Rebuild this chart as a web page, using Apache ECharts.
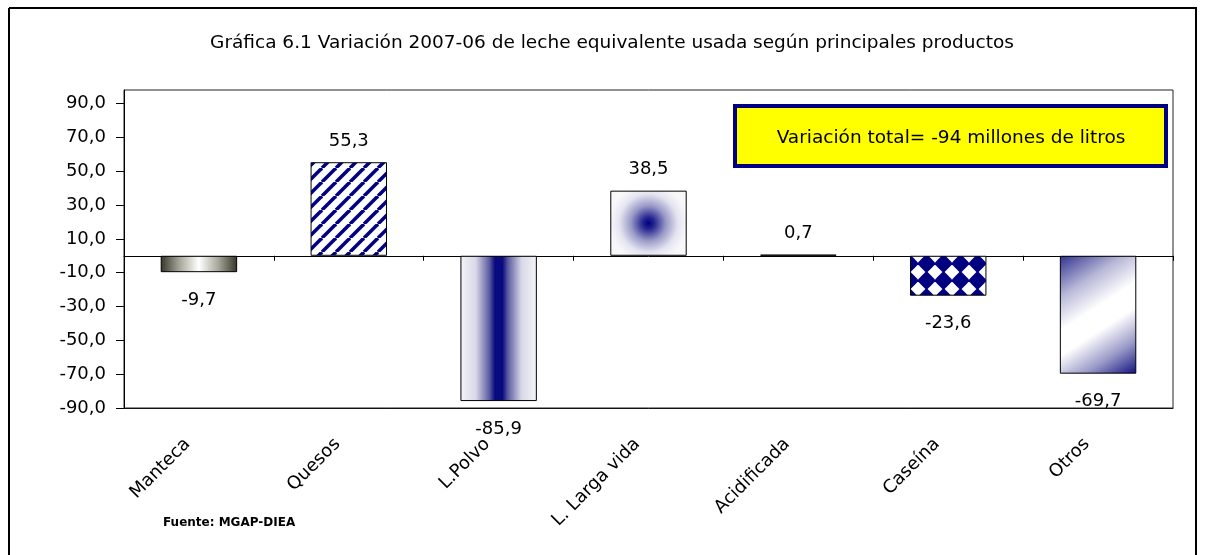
<!DOCTYPE html>
<html><head><meta charset="utf-8">
<script src="https://cdn.jsdelivr.net/npm/echarts@6/dist/echarts.min.js"></script>
<style>html,body{margin:0;padding:0;background:#fff}#c{width:1206px;height:555px}</style>
</head><body><div id="c"></div>
<script>
const categories = ['Manteca','Quesos','L.Polvo','L. Larga vida','Acidificada','Caseína','Otros'];
const values = [-9.7, 55.3, -85.9, 38.5, 0.7, -23.6, -69.7];
const yTickLabels = [-90,-70,-50,-30,-10,10,30,50,70,90];
const titleText = 'Gráfica 6.1 Variación 2007-06 de leche equivalente usada según principales productos';
const boxText = 'Variación total= -94 millones de litros';
const sourceText = 'Fuente: MGAP-DIEA';

const NAVY = '#000080';
function stripeTile(){
  const c = document.createElement('canvas'); c.width = 14; c.height = 14;
  const g = c.getContext('2d');
  g.fillStyle = '#fff'; g.fillRect(0,0,14,14);
  g.strokeStyle = NAVY; g.lineWidth = 3.5;
  for (const o of [-14,0,14]) { g.beginPath(); g.moveTo(o,14); g.lineTo(o+14,0); g.stroke(); }
  return c;
}
function diamondTile(){
  const s = 17, h = s/2, r = 9.6;
  const c = document.createElement('canvas'); c.width = s; c.height = s;
  const g = c.getContext('2d');
  g.fillStyle = '#fff'; g.fillRect(0,0,s,s);
  g.fillStyle = NAVY;
  g.beginPath(); g.moveTo(h, h-r); g.lineTo(h+r, h); g.lineTo(h, h+r); g.lineTo(h-r, h); g.closePath(); g.fill();
  g.beginPath(); g.arc(h,h,6.3,0,Math.PI*2); g.fill();
  return c;
}
const fills = [
  {type:'linear',x:0,y:0,x2:1,y2:0,colorStops:[{offset:0,color:'#35352a'},{offset:0.25,color:'#a8a89c'},{offset:0.5,color:'#ffffff'},{offset:0.75,color:'#a8a89c'},{offset:1,color:'#35352a'}]},
  {image: stripeTile(), repeat:'repeat'},
  {type:'linear',x:0,y:0,x2:1,y2:0,colorStops:[{offset:0,color:'#f4f4f8'},{offset:0.2,color:'#d8d8e8'},{offset:0.38,color:'#5a5aa0'},{offset:0.45,color:'#0a0a80'},{offset:0.55,color:'#0a0a80'},{offset:0.62,color:'#5a5aa0'},{offset:0.8,color:'#d8d8e8'},{offset:1,color:'#f4f4f8'}]},
  {type:'radial',x:0.5,y:0.5,r:0.6,colorStops:[{offset:0,color:'#000080'},{offset:0.15,color:'#262690'},{offset:0.45,color:'#9a9ac8'},{offset:0.75,color:'#e4e4f0'},{offset:1,color:'#f8f8fb'}]},
  {type:'linear',x:0,y:0,x2:1,y2:0,colorStops:[{offset:0,color:'#9090c0'},{offset:1,color:'#9090c0'}]},
  {image: diamondTile(), repeat:'repeat'},
  {type:'linear',x:0,y:0,x2:1,y2:1,colorStops:[{offset:0,color:'#303090'},{offset:0.25,color:'#b8b8d8'},{offset:0.45,color:'#ffffff'},{offset:0.6,color:'#ffffff'},{offset:0.8,color:'#9a9ac8'},{offset:1,color:'#101080'}]}
];
const fmt = v => v.toFixed(1).replace('.', ',');

const chart = echarts.init(document.getElementById('c'), null, {renderer:'canvas'});
const FONT = '"DejaVu Sans", Verdana, sans-serif';
const FS = 18;
chart.setOption({
  animation:false,
  backgroundColor:'#fff',
  textStyle:{fontFamily:FONT},
  grid:{left:124,right:33,top:90,bottom:147,show:true,borderColor:'#222',borderWidth:1,backgroundColor:'transparent'},
  xAxis:[
    {type:'category',data:categories,position:'bottom',
      axisLine:{show:true,onZero:false,lineStyle:{color:'#111',width:1}},
      axisTick:{show:false},
      axisLabel:{rotate:45,margin:22,fontSize:FS,color:'#000',fontFamily:FONT,interval:0,padding:[0,16,0,0]}},
    {type:'category',data:categories,position:'top',
      axisLine:{show:true,onZero:true,lineStyle:{color:'#000',width:1}},
      axisTick:{show:true,inside:true,length:5,lineStyle:{color:'#000'}},
      axisLabel:{show:false}}
  ],
  yAxis:{type:'value',min:-90,max:98,interval:10,
    axisLine:{show:true,lineStyle:{color:'#000',width:1}},
    axisTick:{show:true,length:8,customValues:yTickLabels,lineStyle:{color:'#000'}},
    axisLabel:{customValues:yTickLabels,margin:18,fontSize:FS,color:'#000',fontFamily:FONT,formatter:v=>fmt(v)},
    splitLine:{show:false}},
  series:[{type:'bar',xAxisIndex:0,barWidth:'51%',
    data: values.map((v,i)=>({value:v,itemStyle:{color:fills[i]},label:{position: v<0?'bottom':'top', distance: v<0?19:12}})),
    itemStyle:{borderColor:'#000',borderWidth:1},
    label:{show:true,fontSize:FS,color:'#000',fontFamily:FONT,formatter:p=>fmt(p.value)}}],
  graphic:[
    {type:'line',shape:{x1:9,y1:8,x2:1197,y2:8},style:{stroke:'#000',lineWidth:2}},
    {type:'line',shape:{x1:9,y1:8,x2:9,y2:555},style:{stroke:'#000',lineWidth:2}},
    {type:'line',shape:{x1:1196,y1:8,x2:1196,y2:555},style:{stroke:'#000',lineWidth:2}},
    {type:'text',x:612,y:43,style:{text:titleText,font:'18.5px '+FONT,fill:'#000',textAlign:'center',textVerticalAlign:'middle'}},
    {type:'rect',shape:{x:735,y:106,width:431,height:60},style:{fill:'#ffff00',stroke:'#000080',lineWidth:4}},
    {type:'text',x:951,y:138,style:{text:boxText,font:'18.5px '+FONT,fill:'#000',textAlign:'center',textVerticalAlign:'middle'}},
    {type:'text',x:163,y:523,style:{text:sourceText,font:'bold 12px '+FONT,fill:'#000',textAlign:'left',textVerticalAlign:'middle'}}
  ]
});
</script></body></html>
